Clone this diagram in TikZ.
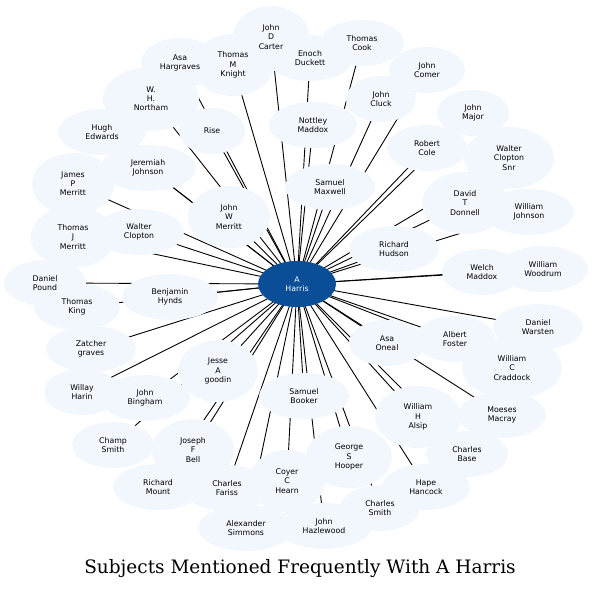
\documentclass[tikz,border=0pt]{standalone}
\usepackage{fontspec}
\setmainfont{Latin Modern Roman}
\newfontfamily\dv{DejaVu Sans}
\newfontfamily\dvs{DejaVu Serif}
\begin{document}
\begin{tikzpicture}[x=1pt,y=-1pt,
  sub/.style={ellipse,fill=bgblue,inner sep=0pt,align=center,font=\dv\fontsize{7.8}{9.2}\selectfont,text=black},
  edge/.style={draw=black,line width=0.9pt}]
\usetikzlibrary{shapes.geometric}
\definecolor{bgblue}{HTML}{F2F7FE}
\definecolor{hub}{HTML}{0B4E98}
\useasboundingbox (0,0) rectangle (602,590);
\coordinate (c) at (297,284);
\def\nodes{asa/180/63/{Asa\\Hargraves}/78/50,
 jdc/271/37/{John\\D\\Carter}/76/62,
 tmk/233/65/{Thomas\\M\\Knight}/82/62,
 edu/310/58/{Enoch\\Duckett}/86/46,
 tco/362/43/{Thomas\\Cook}/84/46,
 jco/427/70/{John\\Comer}/76/46,
 jma/473/113/{John\\Major}/72/46,
 jcl/381/99/{John\\Cluck}/70/46,
 nma/313/125/{Nottley\\Maddox}/88/46,
 whn/151/99/{W.\\H.\\Northam}/96/64,
 hed/102/132/{Hugh\\Edwards}/88/46,
 ris/212/131/{Rise}/66/46,
 rco/427/148/{Robert\\Cole}/80/46,
 wcs/509/158/{Walter\\Clopton\\Snr}/90/62,
 jjo/148/168/{Jeremiah\\Johnson}/96/46,
 jpm/73/184/{James\\P\\Merritt}/82/62,
 sma/330/187/{Samuel\\Maxwell}/90/46,
 dtd/465/203/{David\\T\\Donnell}/86/62,
 wjo/529/212/{William\\Johnson}/90/46,
 jwm/229/217/{John\\W\\Merritt}/82/62,
 tjm/73/237/{Thomas\\J\\Merritt}/84/62,
 wcl/139/232/{Walter\\Clopton}/90/46,
 rhu/394/249/{Richard\\Hudson}/90/46,
 dpo/45/283/{Daniel\\Pound}/82/46,
 wma/482/272/{Welch\\Maddox}/80/46,
 wwo/543/269/{William\\Woodrum}/90/46,
 bhy/170/297/{Benjamin\\Hynds}/96/46,
 tki/77/307/{Thomas\\King}/86/46,
 dwa/538/327/{Daniel\\Warsten}/90/46,
 zgr/91/349/{Zatcher\\graves}/90/46,
 aon/387/343/{Asa\\Oneal}/76/46,
 afo/455/339/{Albert\\Foster}/80/46,
 wcc/512/368/{William\\C\\Craddock}/100/62,
 jag/218/371/{Jesse\\A\\goodin}/80/62,
 wha/82/392/{Willay\\Harin}/76/46,
 jbi/145/398/{John\\Bingham}/90/46,
 sbo/304/396/{Samuel\\Booker}/90/46,
 wal/418/417/{William\\H\\Alsip}/86/62,
 mma/502/415/{Moeses\\Macray}/88/46,
 csm/113/445/{Champ\\Smith}/82/46,
 jfb/193/450/{Joseph\\F\\Bell}/82/62,
 cba/467/454/{Charles\\Base}/82/46,
 gsh/349/457/{George\\S\\Hooper}/86/62,
 rmo/158/487/{Richard\\Mount}/90/46,
 cfa/227/488/{Charles\\Fariss}/88/46,
 cch/287/481/{Coyer\\C\\Hearn}/76/62,
 hha/426/487/{Hape\\Hancock}/88/46,
 csi/380/508/{Charles\\Smith}/80/46,
 asi/246/528/{Alexander\\Simmons}/96/46,
 jha/324/526/{John\\Hazlewood}/96/46}
\foreach \n/\x/\y/\t/\w/\h in \nodes { \coordinate (p\n) at (\x,\y); }
\foreach \n/\x/\y/\t/\w/\h in \nodes { \draw[edge] (c) -- (p\n); }
\foreach \n/\x/\y/\t/\w/\h in \nodes { \fill[bgblue] (\x,\y) ellipse ({\w/2} and {\h/2}); }
\foreach \n/\x/\y/\t/\w/\h in \nodes { \node[sub,fill=none] (\n) at (\x,\y) {\t}; }
\node[ellipse,fill=hub,minimum width=78pt,minimum height=46pt,inner sep=0pt,align=center,text=white,font=\dv\fontsize{7.8}{9.2}\selectfont] (hubn) at (c) {A\\Harris};
\node[font=\dvs\fontsize{18.5}{20}\selectfont] (title) at (300,569) {Subjects Mentioned Frequently With A Harris};
\end{tikzpicture}
\end{document}
